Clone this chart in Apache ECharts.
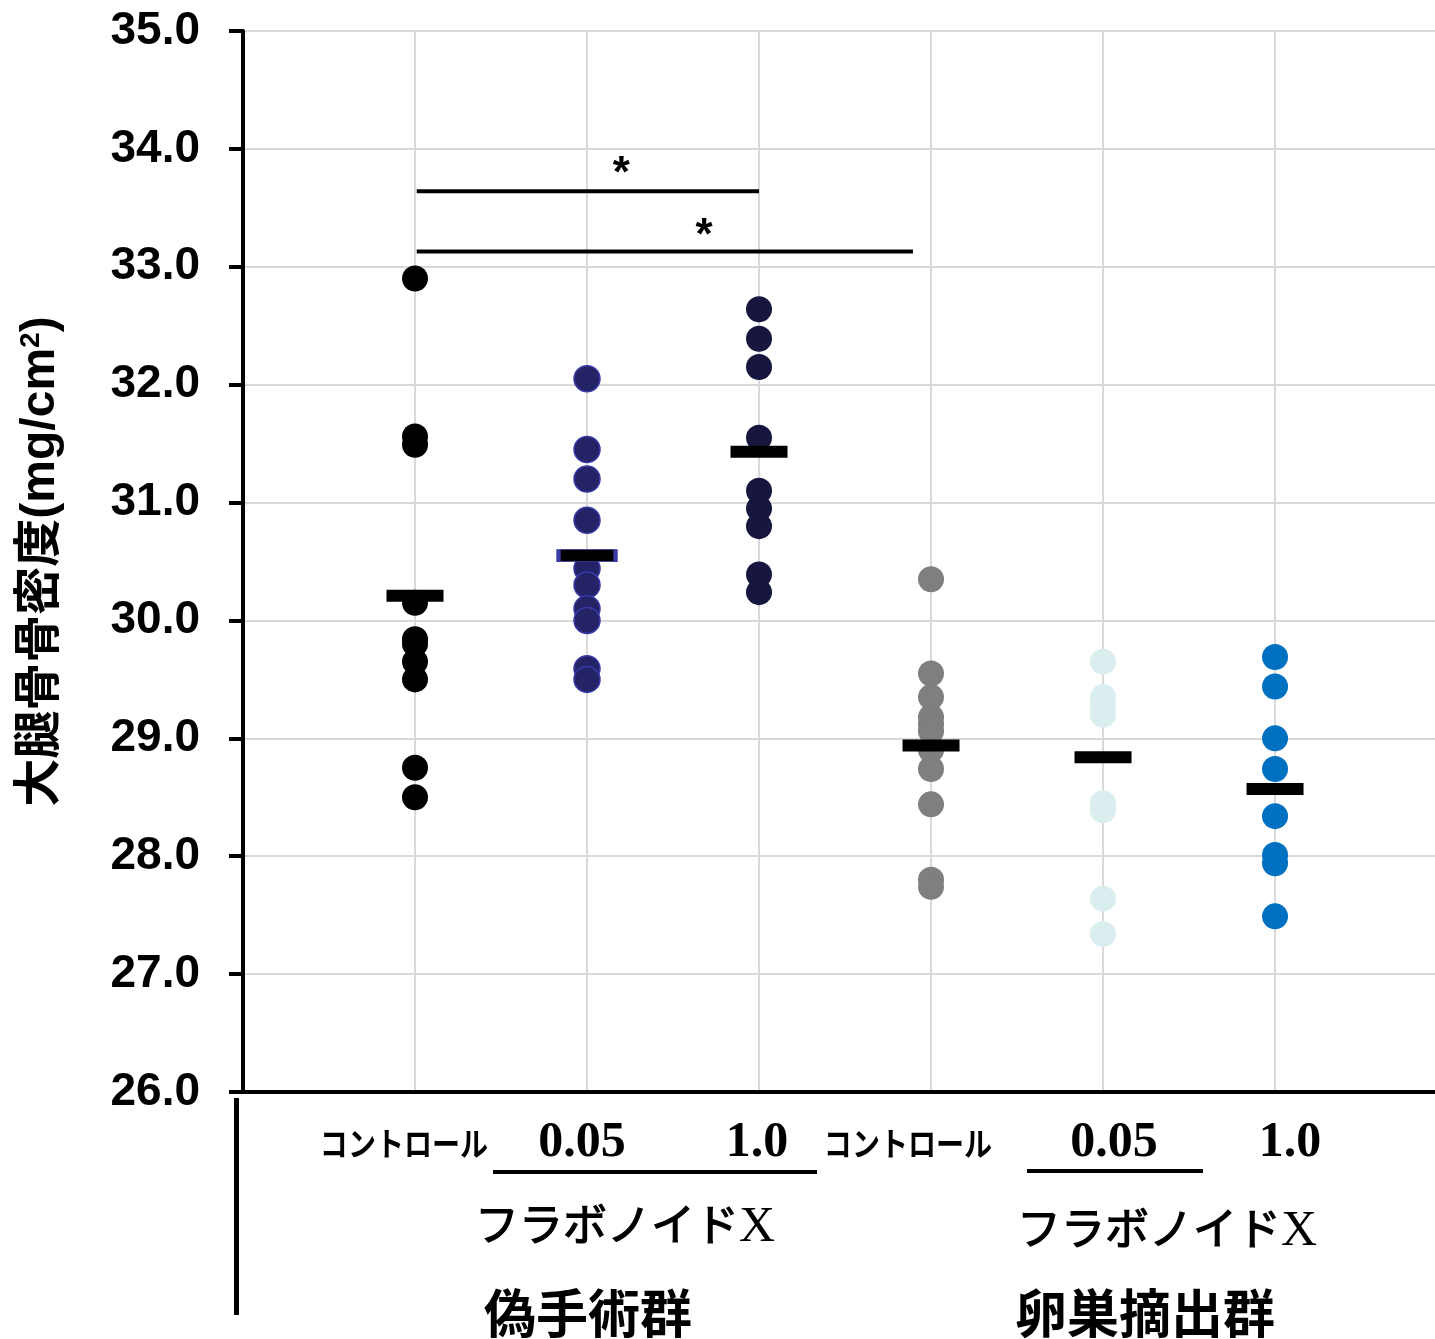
<!DOCTYPE html>
<html>
<head>
<meta charset="utf-8">
<script src="https://cdn.jsdelivr.net/npm/echarts@6/dist/echarts.min.js"></script>
<style>
  html, body { margin: 0; padding: 0; background: #fff; }
  #main { width: 1435px; height: 1339px; }
</style>
</head>
<body>
<div id="main"></div>
<script>
// Tick labels along the x axis, one per group
const categories = ['コントロール', '0.05', '1.0', 'コントロール', '0.05', '1.0'];
const doseTitle = 'フラボノイドX';
const groupNames = ['偽手術群', '卵巣摘出群'];
const yTicks = [26, 27, 28, 29, 30, 31, 32, 33, 34, 35];

// Individual femoral BMD values (mg/cm2)
const shamControl = [32.90, 31.56, 31.49, 30.15, 29.84, 29.80, 29.65, 29.50, 28.75, 28.50];
const shamLow     = [32.05, 31.45, 31.20, 30.85, 30.44, 30.30, 30.10, 30.00, 29.59, 29.50];
const shamHigh    = [32.64, 32.39, 32.15, 31.55, 31.10, 30.95, 30.80, 30.39, 30.24];
const ovxControl  = [30.35, 29.55, 29.35, 29.18, 29.12, 29.06, 28.90, 28.74, 28.44, 27.80, 27.74];
const ovxLow      = [29.65, 29.35, 29.28, 29.20, 28.45, 28.39, 27.64, 27.34];
const ovxHigh     = [29.69, 29.44, 29.00, 28.74, 28.34, 28.01, 27.94, 27.49];

// Group means
const groupMeans = [30.21, 30.55, 31.43, 28.94, 28.84, 28.57];

// Significance brackets: [from group, to group, level]
const sigLines = [[1.01, 3.0, 33.64], [1.01, 3.895, 33.13]];
const sigStars = [[2.20, 33.78], [2.68, 33.25]];

const groups = [shamControl, shamLow, shamHigh, ovxControl, ovxLow, ovxHigh];
const dotColors = ['#000000', '#232366', '#16163f', '#7f7f7f', '#daeef0', '#0070c0'];

const chart = echarts.init(document.getElementById('main'), null, { renderer: 'canvas' });

const series = [];
groups.forEach((vals, gi) => {
  series.push({
    type: 'scatter',
    data: vals.map(v => [gi + 1, v]),
    symbol: 'circle',
    symbolSize: 26,
    z: 3,
    itemStyle: gi === 1
      ? { color: dotColors[gi], borderColor: '#3a3aa8', borderWidth: 1.5, opacity: 1 }
      : { color: dotColors[gi], opacity: 1 },
    emphasis: { disabled: true }
  });
});

// Mean markers
series.push({
  type: 'scatter',
  data: groupMeans.map((m, i) => ({
    value: [i + 1, m],
    itemStyle: i === 1
      ? { color: '#000', borderColor: '#3a3aa8', borderWidth: 2, opacity: 1 }
      : { color: '#000', opacity: 1 }
  })),
  symbol: 'rect',
  symbolSize: [57, 12],
  itemStyle: { opacity: 1 },
  z: 5,
  emphasis: { disabled: true }
});

// Significance bars
sigLines.forEach(s => {
  series.push({
    type: 'line',
    data: [[s[0], s[2]], [s[1], s[2]]],
    symbol: 'none',
    lineStyle: { color: '#000', width: 4 },
    z: 6,
    silent: true
  });
});
series.push({
  type: 'scatter',
  data: sigStars,
  symbolSize: 1,
  itemStyle: { color: 'rgba(0,0,0,0)', opacity: 1 },
  label: {
    show: true, position: 'inside', formatter: '*',
    fontSize: 44, fontWeight: 'bold', color: '#000', opacity: 1,
    fontFamily: 'Liberation Sans, Arial, sans-serif'
  },
  z: 6,
  silent: true
});

chart.setOption({
  animation: false,
  backgroundColor: '#ffffff',
  grid: { left: 243, right: 0, top: 31, bottom: 247, containLabel: false },
  xAxis: {
    type: 'value', min: 0, max: 6.93, interval: 1,
    axisLine: { show: true, onZero: false, lineStyle: { color: '#000', width: 4 } },
    axisTick: { show: false },
    axisLabel: { show: false },
    splitLine: { show: true, showMaxLine: false, lineStyle: { color: '#d9d9d9', width: 2 } }
  },
  yAxis: {
    type: 'value', min: yTicks[0], max: yTicks[yTicks.length - 1], interval: 1,
    axisLine: { show: true, lineStyle: { color: '#000', width: 4 } },
    axisTick: { show: true, inside: false, length: 14, lineStyle: { color: '#000', width: 4 } },
    axisLabel: {
      margin: 43, fontSize: 46, fontWeight: 'bold', color: '#000',
      fontFamily: 'Liberation Sans, Arial, sans-serif',
      formatter: v => v.toFixed(1)
    },
    splitLine: { show: true, lineStyle: { color: '#d9d9d9', width: 2 } },
    name: '{a|大腿骨骨密度(mg/cm}{s|2}{a|)}',
    nameLocation: 'middle',
    nameGap: 178,
    nameTextStyle: {
      color: '#000',
      rich: {
        a: { fontSize: 48, fontWeight: 'bold', color: '#000',
             fontFamily: 'Liberation Sans, Noto Sans CJK JP, sans-serif' },
        s: { fontSize: 28, fontWeight: 'bold', color: '#000', verticalAlign: 'top',
             fontFamily: 'Liberation Sans, sans-serif' }
      }
    }
  },
  series: series
});

// Category labels and group captions below the axis
const labelShift = [-11, -5, -2, -23, 11, 15];
const graphics = [];
categories.forEach((c, i) => {
  const px = chart.convertToPixel({ xAxisIndex: 0 }, i + 1);
  const isCtrl = c === 'コントロール';
  graphics.push({
    type: 'text',
    x: px + labelShift[i],
    y: 1143,
    scaleX: isCtrl ? 0.85 : 1,
    style: {
      text: c,
      align: 'center',
      verticalAlign: 'middle',
      fill: '#000',
      fontSize: isCtrl ? 33 : 50,
      fontWeight: 'bold',
      fontFamily: isCtrl ? 'Noto Sans CJK JP, sans-serif' : 'Liberation Serif, Times New Roman, serif'
    }
  });
});

// Dose underlines
[[493, 817, 1172], [1027, 1203, 1171]].forEach(l => {
  graphics.push({
    type: 'line',
    shape: { x1: l[0], y1: l[2], x2: l[1], y2: l[2] },
    style: { stroke: '#000', lineWidth: 4 }
  });
});

// Compound captions
[[625, 1224], [1167, 1228]].forEach(p => {
  graphics.push({
    type: 'text',
    x: p[0], y: p[1],
    style: {
      text: '{k|' + doseTitle.slice(0, -1) + '}{x|' + doseTitle.slice(-1) + '}',
      align: 'center', verticalAlign: 'middle',
      rich: {
        k: { fontSize: 44, fontFamily: 'Noto Sans CJK JP, sans-serif', fill: '#000',
             stroke: '#000', lineWidth: 1.2 },
        x: { fontSize: 50, fontFamily: 'Liberation Serif, serif', fill: '#000',
             padding: [8, 0, 0, 0] }
      }
    }
  });
});

// Surgery group captions
[[588, 1313], [1145, 1313]].forEach((p, i) => {
  graphics.push({
    type: 'text',
    x: p[0], y: p[1],
    style: {
      text: groupNames[i],
      align: 'center', verticalAlign: 'middle',
      fontSize: 52, fontWeight: 'bold', fill: '#000',
      fontFamily: 'Noto Sans CJK JP, sans-serif'
    }
  });
});

// Divider under the y axis
graphics.push({
  type: 'line',
  shape: { x1: 236.5, y1: 1098, x2: 236.5, y2: 1315 },
  style: { stroke: '#000', lineWidth: 5 }
});

chart.setOption({ graphic: graphics });
</script>
</body>
</html>
